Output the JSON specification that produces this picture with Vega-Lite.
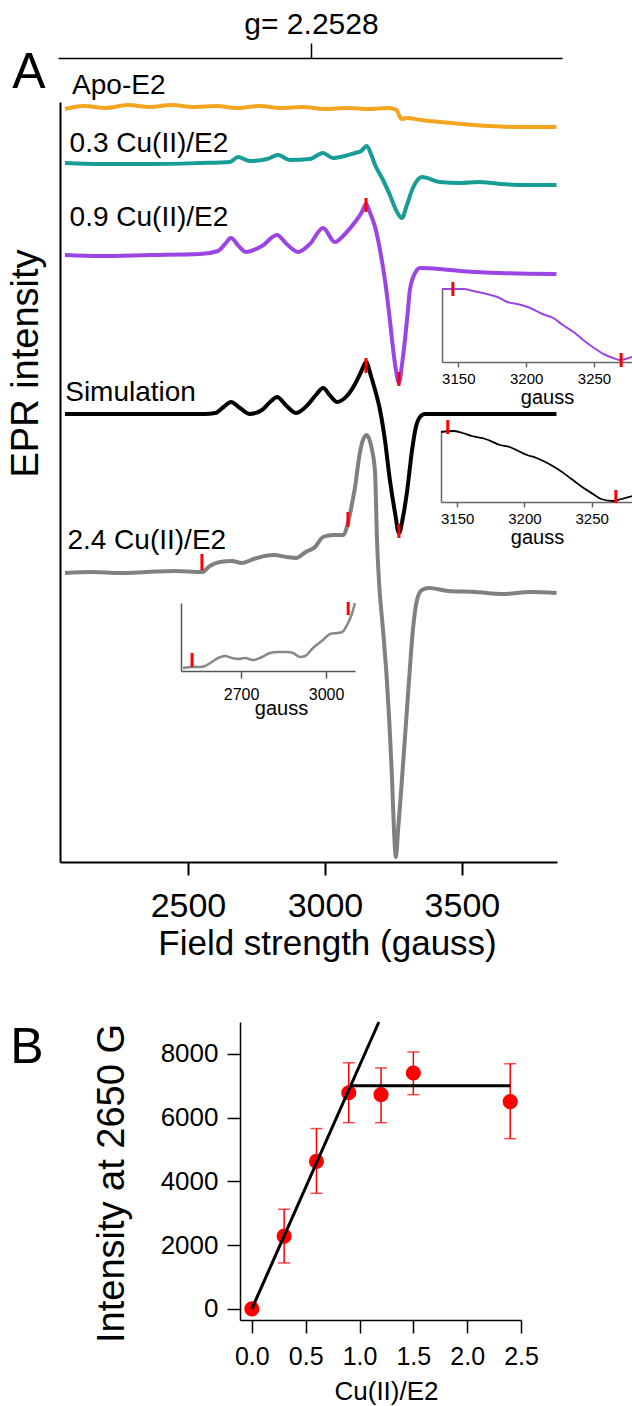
{
  "$schema": "https://vega.github.io/schema/vega-lite/v6.json",
  "width": 632,
  "height": 1406,
  "autosize": {"type": "none"},
  "padding": 0,
  "background": "white",
  "config": {
    "view": {"stroke": null},
    "axis": {"grid": false, "labelFont": "Liberation Sans", "titleFont": "Liberation Sans", "titleFontWeight": "normal", "labelColor": "#000", "titleColor": "#000", "domainColor": "#000", "tickColor": "#000", "labelFlush": false, "labelOverlap": false, "labelBound": false},
    "text": {"font": "Liberation Sans"}
  },
  "datasets": {
    "spectra": [
      {"s":"apo","g":2051,"v":753},{"s":"apo","g":2120,"v":756},{"s":"apo","g":2200,"v":754},{"s":"apo","g":2280,"v":757},{"s":"apo","g":2360,"v":755},{"s":"apo","g":2440,"v":757},{"s":"apo","g":2520,"v":755},{"s":"apo","g":2600,"v":756},{"s":"apo","g":2680,"v":754},{"s":"apo","g":2760,"v":756},{"s":"apo","g":2840,"v":754},{"s":"apo","g":2920,"v":755},{"s":"apo","g":3000,"v":753},{"s":"apo","g":3080,"v":754},{"s":"apo","g":3160,"v":753},{"s":"apo","g":3230,"v":754},{"s":"apo","g":3262,"v":752},{"s":"apo","g":3270,"v":747},{"s":"apo","g":3280,"v":743},{"s":"apo","g":3300,"v":744},{"s":"apo","g":3350,"v":742},{"s":"apo","g":3420,"v":740},{"s":"apo","g":3500,"v":738},{"s":"apo","g":3600,"v":736},{"s":"apo","g":3700,"v":735},{"s":"apo","g":3845,"v":735},
      {"s":"cu03","g":2051,"v":699},{"s":"cu03","g":2179,"v":698},{"s":"cu03","g":2361,"v":698},{"s":"cu03","g":2544,"v":699},{"s":"cu03","g":2653,"v":700},{"s":"cu03","g":2683,"v":705},{"s":"cu03","g":2726,"v":701},{"s":"cu03","g":2790,"v":703},{"s":"cu03","g":2829,"v":707},{"s":"cu03","g":2872,"v":702},{"s":"cu03","g":2945,"v":703},{"s":"cu03","g":2993,"v":709},{"s":"cu03","g":3029,"v":704},{"s":"cu03","g":3073,"v":706},{"s":"cu03","g":3110,"v":709},{"s":"cu03","g":3132,"v":711},{"s":"cu03","g":3153,"v":716},{"s":"cu03","g":3168,"v":708},{"s":"cu03","g":3183,"v":697},{"s":"cu03","g":3212,"v":682},{"s":"cu03","g":3237,"v":667},{"s":"cu03","g":3263,"v":650},{"s":"cu03","g":3281,"v":644},{"s":"cu03","g":3299,"v":657},{"s":"cu03","g":3321,"v":674},{"s":"cu03","g":3354,"v":685},{"s":"cu03","g":3420,"v":680},{"s":"cu03","g":3493,"v":679},{"s":"cu03","g":3560,"v":680},{"s":"cu03","g":3639,"v":678},{"s":"cu03","g":3748,"v":677},{"s":"cu03","g":3845,"v":677},
      {"s":"cu09","g":2051,"v":607},{"s":"cu09","g":2179,"v":606},{"s":"cu09","g":2361,"v":607},{"s":"cu09","g":2544,"v":608},{"s":"cu09","g":2610,"v":611},{"s":"cu09","g":2635,"v":618},{"s":"cu09","g":2657,"v":624},{"s":"cu09","g":2685,"v":616},{"s":"cu09","g":2712,"v":610},{"s":"cu09","g":2770,"v":616},{"s":"cu09","g":2825,"v":627},{"s":"cu09","g":2860,"v":618},{"s":"cu09","g":2902,"v":610},{"s":"cu09","g":2945,"v":618},{"s":"cu09","g":2993,"v":634},{"s":"cu09","g":3036,"v":620},{"s":"cu09","g":3073,"v":628},{"s":"cu09","g":3110,"v":640},{"s":"cu09","g":3135,"v":650},{"s":"cu09","g":3150,"v":658},{"s":"cu09","g":3165,"v":649},{"s":"cu09","g":3183,"v":635},{"s":"cu09","g":3201,"v":612},{"s":"cu09","g":3219,"v":582},{"s":"cu09","g":3237,"v":542},{"s":"cu09","g":3245,"v":522},{"s":"cu09","g":3259,"v":492},{"s":"cu09","g":3270,"v":479},{"s":"cu09","g":3281,"v":497},{"s":"cu09","g":3292,"v":522},{"s":"cu09","g":3303,"v":552},{"s":"cu09","g":3310,"v":572},{"s":"cu09","g":3329,"v":589},{"s":"cu09","g":3347,"v":594},{"s":"cu09","g":3420,"v":593},{"s":"cu09","g":3493,"v":591},{"s":"cu09","g":3639,"v":589},{"s":"cu09","g":3845,"v":588},
      {"s":"sim","g":2051,"v":448},{"s":"sim","g":2300,"v":448},{"s":"sim","g":2560,"v":448},{"s":"sim","g":2600,"v":449},{"s":"sim","g":2630,"v":455},{"s":"sim","g":2657,"v":460},{"s":"sim","g":2690,"v":454},{"s":"sim","g":2726,"v":448},{"s":"sim","g":2770,"v":452},{"s":"sim","g":2800,"v":460},{"s":"sim","g":2825,"v":465},{"s":"sim","g":2860,"v":456},{"s":"sim","g":2895,"v":449},{"s":"sim","g":2940,"v":458},{"s":"sim","g":2970,"v":468},{"s":"sim","g":2993,"v":474},{"s":"sim","g":3020,"v":466},{"s":"sim","g":3044,"v":460},{"s":"sim","g":3080,"v":466},{"s":"sim","g":3110,"v":478},{"s":"sim","g":3135,"v":492},{"s":"sim","g":3150,"v":500},{"s":"sim","g":3168,"v":486},{"s":"sim","g":3183,"v":472},{"s":"sim","g":3201,"v":452},{"s":"sim","g":3219,"v":422},{"s":"sim","g":3237,"v":382},{"s":"sim","g":3256,"v":349},{"s":"sim","g":3270,"v":329},{"s":"sim","g":3285,"v":345},{"s":"sim","g":3299,"v":369},{"s":"sim","g":3318,"v":412},{"s":"sim","g":3332,"v":435},{"s":"sim","g":3347,"v":445},{"s":"sim","g":3365,"v":448},{"s":"sim","g":3845,"v":448},
      {"s":"cu24","g":2051,"v":289},{"s":"cu24","g":2150,"v":290},{"s":"cu24","g":2250,"v":289},{"s":"cu24","g":2350,"v":290},{"s":"cu24","g":2450,"v":291},{"s":"cu24","g":2551,"v":290},{"s":"cu24","g":2580,"v":296},{"s":"cu24","g":2617,"v":300},{"s":"cu24","g":2660,"v":301},{"s":"cu24","g":2697,"v":299},{"s":"cu24","g":2740,"v":303},{"s":"cu24","g":2780,"v":306},{"s":"cu24","g":2814,"v":307},{"s":"cu24","g":2860,"v":305},{"s":"cu24","g":2895,"v":304},{"s":"cu24","g":2930,"v":310},{"s":"cu24","g":2964,"v":315},{"s":"cu24","g":2993,"v":325},{"s":"cu24","g":3030,"v":327},{"s":"cu24","g":3066,"v":327},{"s":"cu24","g":3084,"v":339},{"s":"cu24","g":3100,"v":360},{"s":"cu24","g":3110,"v":375},{"s":"cu24","g":3125,"v":405},{"s":"cu24","g":3139,"v":422},{"s":"cu24","g":3153,"v":427},{"s":"cu24","g":3164,"v":421},{"s":"cu24","g":3172,"v":412},{"s":"cu24","g":3183,"v":389},{"s":"cu24","g":3190,"v":322},{"s":"cu24","g":3197,"v":282},{"s":"cu24","g":3212,"v":232},{"s":"cu24","g":3226,"v":182},{"s":"cu24","g":3245,"v":82},{"s":"cu24","g":3252,"v":32},{"s":"cu24","g":3259,"v":5},{"s":"cu24","g":3267,"v":32},{"s":"cu24","g":3281,"v":82},{"s":"cu24","g":3307,"v":182},{"s":"cu24","g":3321,"v":232},{"s":"cu24","g":3336,"v":262},{"s":"cu24","g":3354,"v":272},{"s":"cu24","g":3380,"v":274},{"s":"cu24","g":3450,"v":271},{"s":"cu24","g":3550,"v":270},{"s":"cu24","g":3650,"v":268},{"s":"cu24","g":3750,"v":270},{"s":"cu24","g":3845,"v":269}
    ],
    "mainTicks": [
      {"g":3150,"v1":650,"v2":664},{"g":3270,"v1":476,"v2":490},{"g":3150,"v1":489,"v2":504},{"g":3270,"v1":324,"v2":338},{"g":2551,"v1":292,"v2":308},{"g":3084,"v1":335,"v2":350}
    ],
    "labels": [
      {"t":"Apo-E2","g":2077,"v":768},{"t":"0.3 Cu(II)/E2","g":2068,"v":710},{"t":"0.9 Cu(II)/E2","g":2068,"v":636},{"t":"Simulation","g":2052,"v":461},{"t":"2.4 Cu(II)/E2","g":2060,"v":313}
    ],
    "panelA": [{"t":"A","g":1920,"v":774}],
    "gline": [{"g":2949}],
    "pin": [
      {"g":3138,"v":73},{"g":3146,"v":73},{"g":3154,"v":73},{"g":3161,"v":71},{"g":3171,"v":68},{"g":3179,"v":65},{"g":3186,"v":60},{"g":3193,"v":58},{"g":3203,"v":54},{"g":3212,"v":48},{"g":3220,"v":44},{"g":3227,"v":37},{"g":3235,"v":30},{"g":3242,"v":22},{"g":3249,"v":15},{"g":3257,"v":8},{"g":3264,"v":4},{"g":3269,"v":2},{"g":3278,"v":5}
    ],
    "pinTicks": [{"g":3146,"v1":66,"v2":80},{"g":3270,"v1":-5,"v2":9}],
    "bin": [
      {"g":3138,"v":70},{"g":3147,"v":71},{"g":3154,"v":69},{"g":3161,"v":66},{"g":3171,"v":63},{"g":3182,"v":57},{"g":3189,"v":55},{"g":3194,"v":52},{"g":3202,"v":47},{"g":3209,"v":44},{"g":3214,"v":41},{"g":3221,"v":36},{"g":3228,"v":30},{"g":3235,"v":23},{"g":3243,"v":15},{"g":3251,"v":8},{"g":3257,"v":3},{"g":3266,"v":1},{"g":3272,"v":3},{"g":3280,"v":6}
    ],
    "binTicks": [{"g":3143,"v1":68,"v2":82},{"g":3268,"v1":-1,"v2":12}],
    "gin": [
      {"g":2495,"v":3},{"g":2527,"v":4},{"g":2555,"v":4},{"g":2573,"v":5},{"g":2591,"v":8},{"g":2619,"v":13},{"g":2644,"v":15},{"g":2668,"v":13},{"g":2689,"v":12},{"g":2714,"v":13},{"g":2742,"v":11},{"g":2774,"v":14},{"g":2802,"v":18},{"g":2831,"v":19},{"g":2862,"v":19},{"g":2884,"v":18},{"g":2908,"v":14},{"g":2926,"v":15},{"g":2954,"v":23},{"g":2989,"v":31},{"g":3014,"v":37},{"g":3039,"v":38},{"g":3057,"v":39},{"g":3074,"v":46},{"g":3092,"v":58},{"g":3102,"v":68}
    ],
    "ginTicks": [{"g":2527,"v1":4,"v2":18},{"g":3078,"v1":56,"v2":69}],
    "pb": [
      {"c":0,"m":0},
      {"c":0.3,"m":2280,"lo":1440,"hi":3125},
      {"c":0.6,"m":4625,"lo":3625,"hi":5656},
      {"c":0.9,"m":6780,"lo":5840,"hi":7720},
      {"c":1.2,"m":6720,"lo":5840,"hi":7560},
      {"c":1.5,"m":7400,"lo":6720,"hi":8060},
      {"c":2.4,"m":6500,"lo":5340,"hi":7690}
    ],
    "fit": [
      {"seg":"a","c":0,"m":0},{"seg":"a","c":1.18,"m":9000},
      {"seg":"b","c":0.915,"m":7000},{"seg":"b","c":2.4,"m":7000}
    ],
    "panelB": [{"t":"B","c":-2.09,"m":7700}]
  },
  "resolve": {"scale": {"x": "independent", "y": "independent"}, "axis": {"x": "independent", "y": "independent"}},
  "layer": [
    {
      "layer": [
        {
          "data": {"name": "spectra"},
          "mark": {"type": "line", "strokeWidth": 4, "interpolate": "monotone"},
          "encoding": {
            "x": {"field": "g", "type": "quantitative", "scale": {"domain": [2033, 3847], "range": [60, 557], "nice": false, "zero": false},
              "axis": {"orient": "bottom", "offset": -544, "values": [2500, 3000, 3500], "format": "d", "tickSize": 13, "tickWidth": 2, "domainWidth": 2, "labelFontSize": 34, "labelPadding": 14, "title": "Field strength (gauss)", "titleFontSize": 35, "titleX": 327, "titleY": 92, "titleBaseline": "alphabetic", "titleAlign": "center"}},
            "y": {"field": "v", "type": "quantitative", "scale": {"domain": [0, 760], "range": [862, 102], "nice": false, "zero": false},
              "axis": {"orient": "left", "offset": -60, "ticks": false, "labels": false, "domainWidth": 2, "title": "EPR intensity", "titleFontSize": 38, "titleX": -34, "titleY": 363, "titleBaseline": "middle", "titleAlign": "center", "titleAngle": -90}},
            "color": {"field": "s", "type": "nominal", "scale": {"domain": ["apo", "cu03", "cu09", "sim", "cu24"], "range": ["#F3A51F", "#179C96", "#9B45E4", "#000000", "#808080"]}, "legend": null}
          }
        },
        {
          "data": {"name": "mainTicks"},
          "mark": {"type": "rule", "color": "#FF0000", "strokeWidth": 3},
          "encoding": {
            "x": {"field": "g", "type": "quantitative"},
            "y": {"field": "v1", "type": "quantitative"},
            "y2": {"field": "v2"}
          }
        },
        {
          "data": {"name": "labels"},
          "mark": {"type": "text", "align": "left", "baseline": "alphabetic", "fontSize": 28, "color": "#000"},
          "encoding": {
            "x": {"field": "g", "type": "quantitative"},
            "y": {"field": "v", "type": "quantitative"},
            "text": {"field": "t"}
          }
        },
        {
          "data": {"name": "panelA"},
          "mark": {"type": "text", "align": "center", "baseline": "alphabetic", "fontSize": 50, "color": "#000"},
          "encoding": {
            "x": {"field": "g", "type": "quantitative"},
            "y": {"field": "v", "type": "quantitative"},
            "text": {"field": "t"}
          }
        }
      ]
    },
    {
      "data": {"name": "gline"},
      "mark": {"type": "point", "opacity": 0},
      "encoding": {
        "x": {"field": "g", "type": "quantitative", "scale": {"domain": [2026, 3865], "range": [58, 562], "nice": false, "zero": false},
          "axis": {"orient": "top", "offset": -58, "values": [2949], "labelExpr": "'g= 2.2528'", "tickSize": 15, "tickWidth": 1.5, "domainWidth": 1.5, "labelFontSize": 30, "labelPadding": 4, "labelDx": 14, "title": null}}
      }
    },
    {
      "layer": [
        {
          "data": {"name": "pin"},
          "mark": {"type": "line", "color": "#9B45E4", "strokeWidth": 2, "interpolate": "monotone"},
          "encoding": {
            "x": {"field": "g", "type": "quantitative", "scale": {"domain": [3138, 3278], "range": [442, 632], "nice": false, "zero": false},
              "axis": {"orient": "bottom", "offset": -1044, "values": [3150, 3200, 3250], "format": "d", "tickSize": 5, "tickWidth": 1.5, "domainWidth": 1.5, "domainColor": "#666", "tickColor": "#666", "labelFontSize": 15, "labelPadding": 4, "title": "gauss", "titleFontSize": 20, "titleX": 547, "titleY": 41, "titleBaseline": "alphabetic", "titleAlign": "center"}},
            "y": {"field": "v", "type": "quantitative", "scale": {"domain": [0, 74], "range": [362, 288], "nice": false, "zero": false},
              "axis": {"orient": "left", "offset": -442, "ticks": false, "labels": false, "title": null, "domainWidth": 1.5, "domainColor": "#666"}}
          }
        },
        {
          "data": {"name": "pinTicks"},
          "mark": {"type": "rule", "color": "#FF0000", "strokeWidth": 3},
          "encoding": {
            "x": {"field": "g", "type": "quantitative"},
            "y": {"field": "v1", "type": "quantitative"},
            "y2": {"field": "v2"}
          }
        }
      ]
    },
    {
      "layer": [
        {
          "data": {"name": "bin"},
          "mark": {"type": "line", "color": "#000000", "strokeWidth": 1.8, "interpolate": "monotone"},
          "encoding": {
            "x": {"field": "g", "type": "quantitative", "scale": {"domain": [3138, 3280], "range": [441, 632], "nice": false, "zero": false},
              "axis": {"orient": "bottom", "offset": -904, "values": [3150, 3200, 3250], "format": "d", "tickSize": 5, "tickWidth": 1.5, "domainWidth": 1.5, "domainColor": "#666", "tickColor": "#666", "labelFontSize": 15, "labelPadding": 4, "title": "gauss", "titleFontSize": 20, "titleX": 537, "titleY": 41, "titleBaseline": "alphabetic", "titleAlign": "center"}},
            "y": {"field": "v", "type": "quantitative", "scale": {"domain": [0, 70], "range": [502, 432], "nice": false, "zero": false},
              "axis": {"orient": "left", "offset": -441, "ticks": false, "labels": false, "title": null, "domainWidth": 1.5, "domainColor": "#666"}}
          }
        },
        {
          "data": {"name": "binTicks"},
          "mark": {"type": "rule", "color": "#FF0000", "strokeWidth": 3},
          "encoding": {
            "x": {"field": "g", "type": "quantitative"},
            "y": {"field": "v1", "type": "quantitative"},
            "y2": {"field": "v2"}
          }
        }
      ]
    },
    {
      "layer": [
        {
          "data": {"name": "gin"},
          "mark": {"type": "line", "color": "#888888", "strokeWidth": 2.5, "interpolate": "monotone"},
          "encoding": {
            "x": {"field": "g", "type": "quantitative", "scale": {"domain": [2488, 3102], "range": [181, 355], "nice": false, "zero": false},
              "axis": {"orient": "bottom", "offset": -735, "values": [2700, 3000], "format": "d", "tickSize": 7, "tickWidth": 1.5, "domainWidth": 1.5, "domainColor": "#555", "tickColor": "#555", "labelFontSize": 16, "labelPadding": 8, "title": "gauss", "titleFontSize": 20, "titleX": 281, "titleY": 43, "titleBaseline": "alphabetic", "titleAlign": "center"}},
            "y": {"field": "v", "type": "quantitative", "scale": {"domain": [0, 68], "range": [671, 603], "nice": false, "zero": false},
              "axis": {"orient": "left", "offset": -181, "ticks": false, "labels": false, "title": null, "domainWidth": 1.5, "domainColor": "#555"}}
          }
        },
        {
          "data": {"name": "ginTicks"},
          "mark": {"type": "rule", "color": "#FF0000", "strokeWidth": 3},
          "encoding": {
            "x": {"field": "g", "type": "quantitative"},
            "y": {"field": "v1", "type": "quantitative"},
            "y2": {"field": "v2"}
          }
        }
      ]
    },
    {
      "layer": [
        {
          "data": {"name": "pb"},
          "mark": {"type": "rule", "color": "#FF0000", "strokeWidth": 1.5},
          "encoding": {
            "x": {"field": "c", "type": "quantitative", "scale": {"domain": [-0.11, 2.5], "range": [240, 521], "nice": false, "zero": false},
              "axis": {"orient": "bottom", "offset": -86, "values": [0, 0.5, 1, 1.5, 2, 2.5], "format": ".1f", "tickSize": 13, "tickWidth": 1.5, "domainWidth": 1.5, "labelFontSize": 25, "labelPadding": 11, "title": "Cu(II)/E2", "titleFontSize": 26, "titleX": 386, "titleY": 79, "titleBaseline": "alphabetic", "titleAlign": "center"}},
            "y": {"field": "lo", "type": "quantitative", "scale": {"domain": [-350, 9000], "range": [1320, 1022], "nice": false, "zero": false},
              "axis": {"orient": "left", "offset": -240, "values": [0, 2000, 4000, 6000, 8000], "format": "d", "tickSize": 13, "tickWidth": 1.5, "domainWidth": 1.5, "labelFontSize": 26, "labelPadding": 9, "title": "Intensity at 2650 G", "titleFontSize": 38, "titleX": -128, "titleY": 1183, "titleBaseline": "middle", "titleAlign": "center", "titleAngle": -90}},
            "y2": {"field": "hi"}
          }
        },
        {
          "data": {"name": "pb"},
          "mark": {"type": "tick", "orient": "horizontal", "color": "#FF0000", "size": 12, "thickness": 1.5},
          "encoding": {
            "x": {"field": "c", "type": "quantitative"},
            "y": {"field": "hi", "type": "quantitative"}
          }
        },
        {
          "data": {"name": "pb"},
          "mark": {"type": "tick", "orient": "horizontal", "color": "#FF0000", "size": 12, "thickness": 1.5},
          "encoding": {
            "x": {"field": "c", "type": "quantitative"},
            "y": {"field": "lo", "type": "quantitative"}
          }
        },
        {
          "data": {"name": "pb"},
          "mark": {"type": "circle", "color": "#FF0000", "size": 230, "opacity": 1},
          "encoding": {
            "x": {"field": "c", "type": "quantitative"},
            "y": {"field": "m", "type": "quantitative"}
          }
        },
        {
          "data": {"name": "fit"},
          "mark": {"type": "line", "color": "#000000", "strokeWidth": 3},
          "encoding": {
            "x": {"field": "c", "type": "quantitative"},
            "y": {"field": "m", "type": "quantitative"},
            "detail": {"field": "seg"}
          }
        },
        {
          "data": {"name": "panelB"},
          "mark": {"type": "text", "align": "center", "baseline": "alphabetic", "fontSize": 50, "color": "#000"},
          "encoding": {
            "x": {"field": "c", "type": "quantitative"},
            "y": {"field": "m", "type": "quantitative"},
            "text": {"field": "t"}
          }
        }
      ]
    }
  ]
}
